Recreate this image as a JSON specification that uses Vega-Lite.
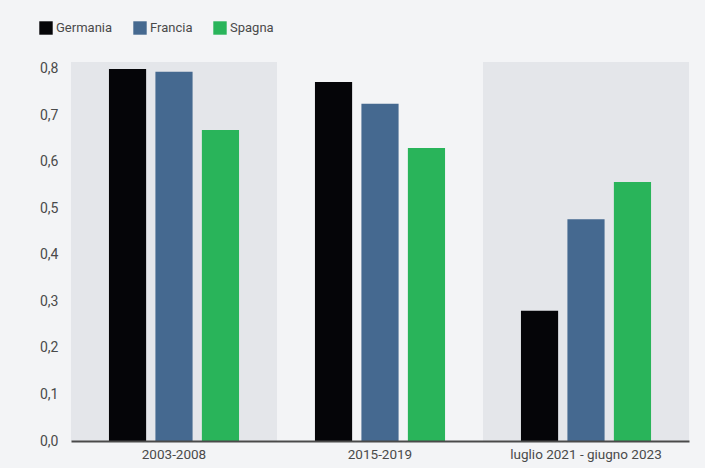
{
  "$schema": "https://vega.github.io/schema/vega-lite/v6.json",
  "width": 618,
  "height": 379,
  "autosize": "none",
  "padding": {"left": 71, "top": 62, "right": 16, "bottom": 27},
  "background": "#f3f4f6",
  "config": {
    "view": {"stroke": null},
    "font": "Roboto",
    "axis": {"labelFont": "Roboto", "labelColor": "#4a4a4a", "labelFontSize": 13.5}
  },
  "datasets": {
    "bands": [
      {"periodo": "2003-2008"},
      {"periodo": "luglio 2021 - giugno 2023"}
    ],
    "bars": [
      {"periodo": "2003-2008", "paese": "Germania", "valore": 0.800},
      {"periodo": "2003-2008", "paese": "Francia", "valore": 0.794},
      {"periodo": "2003-2008", "paese": "Spagna", "valore": 0.669},
      {"periodo": "2015-2019", "paese": "Germania", "valore": 0.772},
      {"periodo": "2015-2019", "paese": "Francia", "valore": 0.725},
      {"periodo": "2015-2019", "paese": "Spagna", "valore": 0.630},
      {"periodo": "luglio 2021 - giugno 2023", "paese": "Germania", "valore": 0.280},
      {"periodo": "luglio 2021 - giugno 2023", "paese": "Francia", "valore": 0.477},
      {"periodo": "luglio 2021 - giugno 2023", "paese": "Spagna", "valore": 0.557}
    ]
  },
  "layer": [
    {
      "data": {"name": "bands"},
      "mark": {"type": "bar", "color": "#e4e6ea"},
      "encoding": {
        "x": {
          "field": "periodo", "type": "nominal",
          "scale": {"domain": ["2003-2008", "2015-2019", "luglio 2021 - giugno 2023"], "paddingInner": 0, "paddingOuter": 0},
          "axis": {"title": null, "ticks": false, "labelAngle": 0, "labelPadding": 6, "domainColor": "#4a4a4a", "domainWidth": 2, "zindex": 1}
        }
      }
    },
    {
      "data": {"name": "bars"},
      "mark": {"type": "bar"},
      "encoding": {
        "x": {"field": "periodo", "type": "nominal"},
        "xOffset": {
          "field": "paese", "type": "nominal",
          "scale": {"domain": ["Germania", "Francia", "Spagna"], "paddingInner": 0.2, "paddingOuter": 0.817}
        },
        "y": {
          "field": "valore", "type": "quantitative",
          "scale": {"domain": [0, 0.815], "nice": false},
          "axis": {
            "title": null, "grid": false, "ticks": false, "domain": false,
            "values": [0, 0.1, 0.2, 0.3, 0.4, 0.5, 0.6, 0.7, 0.8],
            "labelExpr": "replace(format(datum.value, '.1f'), '.', ',')",
            "labelPadding": 13, "labelFontSize": 14
          }
        },
        "color": {
          "field": "paese", "type": "nominal",
          "scale": {"domain": ["Germania", "Francia", "Spagna"], "range": ["#050508", "#456990", "#29b45a"]},
          "legend": {
            "title": null, "orient": "none", "direction": "horizontal",
            "legendX": -32, "legendY": -41,
            "symbolType": "square", "symbolSize": 180, "symbolStrokeWidth": 0,
            "labelFontSize": 13, "labelColor": "#4a4a4a", "labelFont": "Roboto",
            "columnPadding": 20, "labelOffset": 3
          }
        }
      }
    }
  ]
}
